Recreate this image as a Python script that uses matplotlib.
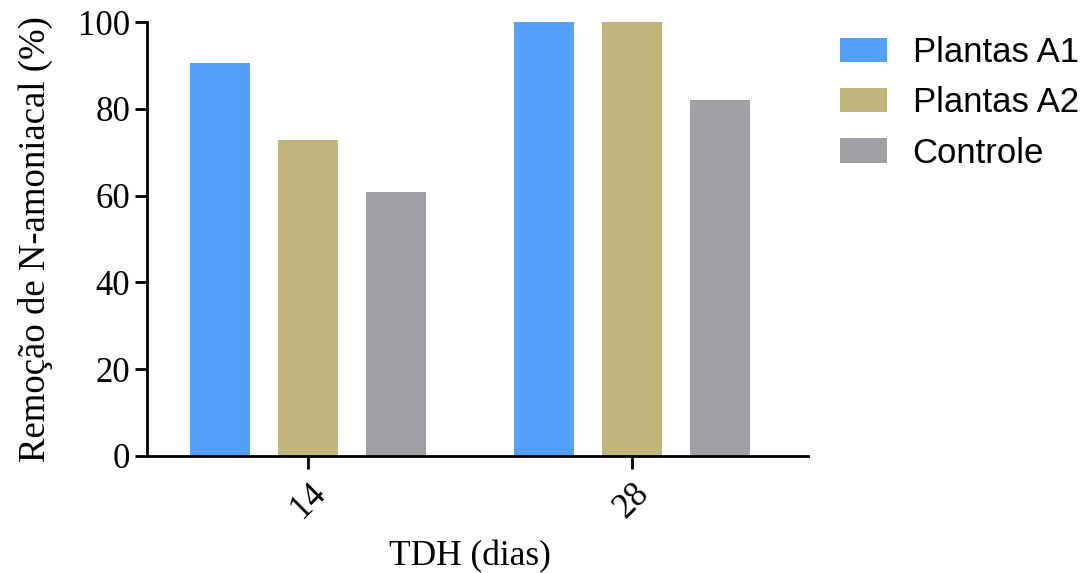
import matplotlib
matplotlib.use("Agg")
import matplotlib.pyplot as plt
import numpy as np
from matplotlib.patches import Patch

categories = ["14", "28"]
series_names = ["Plantas A1", "Plantas A2", "Controle"]
plantas_a1 = [90.5, 100.0]
plantas_a2 = [72.8, 100.0]
controle = [60.8, 82.0]
colors = ["#55A0FB", "#C0B67C", "#A19FA4"]

fig = plt.figure(figsize=(10.87, 5.73), dpi=100)
ax = fig.add_axes([0.1352, 0.2042, 0.6081, 0.7574])

group_pos = np.array([0.0, 3.69])
offsets = [-1.0, 0.0, 1.0]
width = 0.68
for vals, off, col, name in zip([plantas_a1, plantas_a2, controle], offsets, colors, series_names):
    ax.bar(group_pos + off, vals, width=width, color=col, label=name)

ax.set_xlim(-1.83, 5.69)
ax.set_ylim(0, 100)
ax.set_xticks(group_pos)
ax.set_xticklabels(categories, rotation=45, ha="center", va="top",
                   fontfamily="Liberation Serif", fontsize=25)
ax.set_yticks([0, 20, 40, 60, 80, 100])
ax.set_yticklabels(["0", "20", "40", "60", "80", "100"], fontfamily="Liberation Serif", fontsize=25)
ax.tick_params(axis="both", length=9, width=2, color="black", pad=3)
ax.tick_params(axis="x", pad=6)
for s in ["top", "right"]:
    ax.spines[s].set_visible(False)
for s in ["left", "bottom"]:
    ax.spines[s].set_linewidth(2)

ax.set_xlabel("TDH (dias)", fontfamily="Liberation Serif", fontsize=25.5)
ax.xaxis.set_label_coords(0.488, -0.193)
ax.set_ylabel("Remoção de N-amoniacal (%)", fontfamily="Liberation Serif", fontsize=26.5, labelpad=18)

handles = [Patch(facecolor=c, edgecolor="none") for c in colors]
ax.legend(handles, series_names, loc="upper left", bbox_to_anchor=(1.048, 0.968),
          frameon=False, prop={"family": "Liberation Sans", "size": 25},
          handlelength=1.35, handleheight=0.7, handletextpad=0.75, labelspacing=0.5,
          borderaxespad=0, borderpad=0)

fig.savefig("out.png", dpi=100)
